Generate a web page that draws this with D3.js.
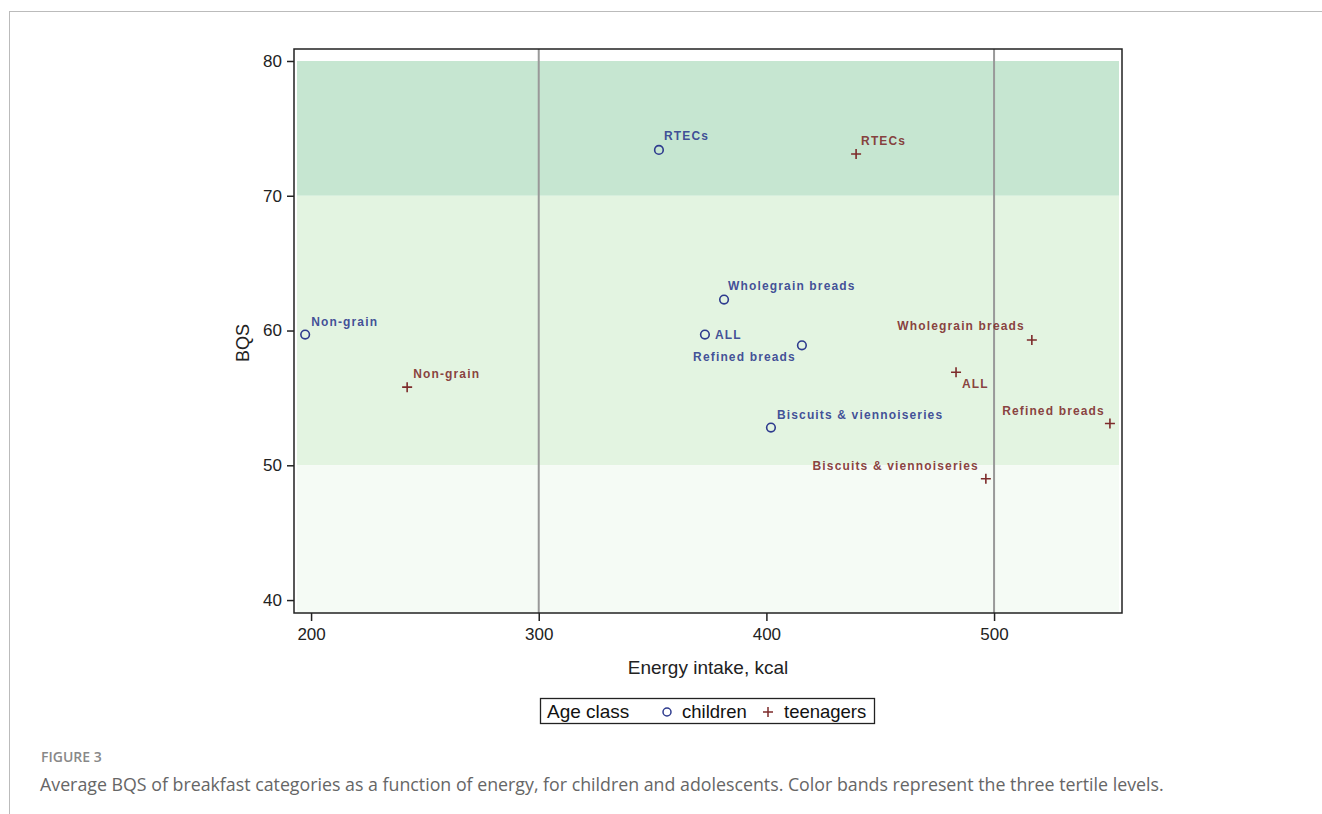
<!DOCTYPE html>
<html><head><meta charset="utf-8">
<script src="https://cdn.jsdelivr.net/npm/d3@7/dist/d3.min.js"></script>
<style>
body{margin:0;background:#fff;}
svg{display:block;}
</style></head>
<body>
<svg id="chart" width="1322" height="814"></svg>
<script>
const xTicks = [200, 300, 400, 500];
const yTicks = [40, 50, 60, 70, 80];
const refLines = [300, 500];
const bands = [
  {from: 70, to: 80, color: "#c6e6d1"},
  {from: 50, to: 70, color: "#e3f4e1"},
  {from: 39.04, to: 50, color: "#f5fbf5"}
];
const categories = ["Non-grain", "RTECs", "Wholegrain breads", "ALL", "Refined breads", "Biscuits & viennoiseries"];
const childrenEnergy = [197.4, 352.8, 381.4, 373.0, 415.6, 402.0];
const childrenBQS    = [59.7, 73.4, 62.3, 59.7, 58.9, 52.8];
const teenEnergy     = [242.2, 439.4, 516.6, 483.3, 550.9, 496.4];
const teenBQS        = [55.8, 73.1, 59.3, 56.9, 53.1, 49.0];
// label placement: dx, dy, anchor
const childLabelPos = [[6,-9,"start"],[5,-10,"start"],[4,-10,"start"],[10,4,"start"],[-6,16,"end"],[6,-9,"start"]];
const teenLabelPos  = [[6,-9,"start"],[5,-9,"start"],[-7,-10,"end"],[6,16,"start"],[-5,-9,"end"],[-7,-9,"end"]];

const svg = d3.select("#chart");
// outer frame
svg.append("line").attr("x1",9).attr("x2",1322).attr("y1",11.5).attr("y2",11.5).attr("stroke","#bbb").attr("stroke-width",1);
svg.append("line").attr("x1",9.5).attr("x2",9.5).attr("y1",11).attr("y2",814).attr("stroke","#bbb").attr("stroke-width",1);

const L = 294, R = 1122, T = 49, B = 613;
const x = d3.scaleLinear().domain([192.5, 556.2]).range([L, R]);
const y = d3.scaleLinear().domain([39.04, 80.89]).range([B, T]);

const g = svg.append("g");
g.selectAll("rect.band").data(bands).join("rect")
  .attr("x", L + 3).attr("width", R - L - 6)
  .attr("y", d => y(d.to)).attr("height", d => y(d.from) - y(d.to))
  .attr("fill", d => d.color);

g.selectAll("line.ref").data(refLines).join("line")
  .attr("x1", d => x(d)).attr("x2", d => x(d)).attr("y1", T).attr("y2", B)
  .attr("stroke", "#999").attr("stroke-width", 2);

// axes
const font = "'Liberation Sans', Arial, sans-serif";
const yAxis = g.append("g").attr("transform", `translate(${L},0)`)
  .call(d3.axisLeft(y).tickValues(yTicks).tickSize(7).tickPadding(5));
const xAxis = g.append("g").attr("transform", `translate(0,${B})`)
  .call(d3.axisBottom(x).tickValues(xTicks).tickSize(8).tickPadding(7));
[xAxis, yAxis].forEach(a => {
  a.select(".domain").remove();
  a.selectAll("line").attr("stroke", "#222").attr("stroke-width", 1.5);
  a.selectAll("text").attr("font-family", font).attr("font-size", 17).attr("fill", "#222");
});

g.append("rect").attr("x", L).attr("y", T).attr("width", R - L).attr("height", B - T)
  .attr("fill", "none").attr("stroke", "#222").attr("stroke-width", 1.5);

svg.append("text").attr("x", 708).attr("y", 674).attr("text-anchor", "middle")
  .attr("font-family", font).attr("font-size", 19).attr("fill", "#222").text("Energy intake, kcal");
svg.append("text").attr("transform", "translate(249,343) rotate(-90)").attr("text-anchor", "middle")
  .attr("font-family", font).attr("font-size", 18).attr("fill", "#222").text("BQS");

const blue = "#2e3b8e", red = "#7d2b2b";

const cData = categories.map((c, i) => ({c, e: childrenEnergy[i], b: childrenBQS[i], p: childLabelPos[i]}));
const tData = categories.map((c, i) => ({c, e: teenEnergy[i], b: teenBQS[i], p: teenLabelPos[i]}));

g.selectAll("circle.child").data(cData).join("circle")
  .attr("cx", d => x(d.e)).attr("cy", d => y(d.b)).attr("r", 4.3)
  .attr("fill", "none").attr("stroke", blue).attr("stroke-width", 1.6);
g.selectAll("text.clab").data(cData).join("text")
  .attr("x", d => x(d.e) + d.p[0]).attr("y", d => y(d.b) + d.p[1])
  .attr("text-anchor", d => d.p[2])
  .attr("font-family", font).attr("font-size", 12).attr("font-weight", "bold")
  .attr("letter-spacing", 1.15).attr("fill", blue).attr("fill-opacity", 0.9)
  .text(d => d.c);

g.selectAll("path.teen").data(tData).join("path")
  .attr("transform", d => `translate(${x(d.e)},${y(d.b)})`)
  .attr("d", "M-5,0H5M0,-5V5")
  .attr("stroke", red).attr("stroke-width", 1.6).attr("fill", "none");
g.selectAll("text.tlab").data(tData).join("text")
  .attr("x", d => x(d.e) + d.p[0]).attr("y", d => y(d.b) + d.p[1])
  .attr("text-anchor", d => d.p[2])
  .attr("font-family", font).attr("font-size", 12).attr("font-weight", "bold")
  .attr("letter-spacing", 1.15).attr("fill", red).attr("fill-opacity", 0.9)
  .text(d => d.c);

// legend
const lg = svg.append("g");
lg.append("rect").attr("x", 540.5).attr("y", 698.5).attr("width", 334).attr("height", 25)
  .attr("fill", "#fff").attr("stroke", "#222").attr("stroke-width", 1.3);
lg.append("text").attr("x", 547).attr("y", 718).attr("font-family", font).attr("font-size", 19).attr("fill", "#111").text("Age class");
lg.append("circle").attr("cx", 667).attr("cy", 712).attr("r", 4).attr("fill", "none").attr("stroke", blue).attr("stroke-width", 1.5);
lg.append("text").attr("x", 682).attr("y", 718).attr("font-family", font).attr("font-size", 18.5).attr("fill", "#111").text("children");
lg.append("path").attr("transform", "translate(768,712)").attr("d", "M-5,0H5M0,-5V5").attr("stroke", red).attr("stroke-width", 1.5);
lg.append("text").attr("x", 784).attr("y", 718).attr("font-family", font).attr("font-size", 18.5).attr("fill", "#111").text("teenagers");

// caption
svg.append("text").attr("x", 41).attr("y", 762).attr("font-family", "'Open Sans', sans-serif").attr("font-size", 14)
  .attr("font-weight", 600).attr("fill", "#888").text("FIGURE 3");
svg.append("text").attr("x", 40).attr("y", 791).attr("font-family", "'Open Sans', sans-serif").attr("font-size", 17.8)
  .attr("fill", "#666").text("Average BQS of breakfast categories as a function of energy, for children and adolescents. Color bands represent the three tertile levels.");
</script>
</body></html>
